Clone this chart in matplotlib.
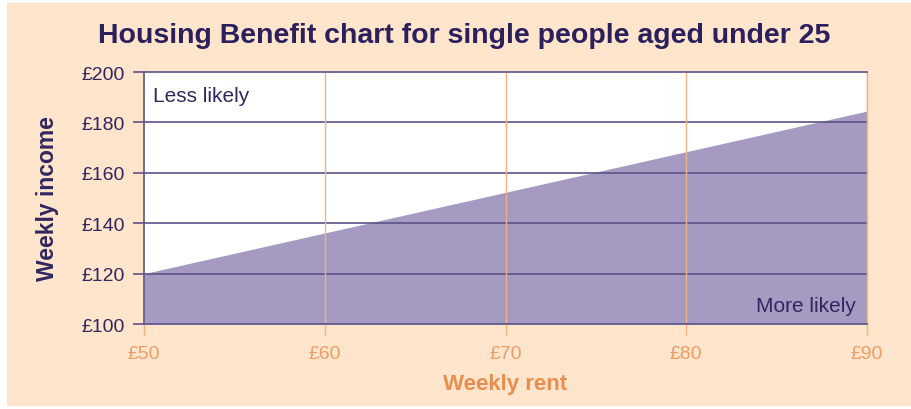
import matplotlib
matplotlib.use("Agg")
import matplotlib.pyplot as plt
from matplotlib.patches import Rectangle

# Data
rent = [50, 90]
income_threshold = [120, 184.5]
x_ticks = [50, 60, 70, 80, 90]
x_tick_labels = ["£50", "£60", "£70", "£80", "£90"]
y_ticks = [100, 120, 140, 160, 180, 200]
y_tick_labels = ["£100", "£120", "£140", "£160", "£180", "£200"]

PEACH = "#FEE5CC"
FILL = "#A59BC2"
DARK = "#31275F"
HLINE = "#5E5289"
ORANGE = "#E98E4E"
ORANGE_LIGHT = "#EE9D66"
VLINE = "#F4B07F"

plt.rcParams["font.family"] = ["Liberation Sans", "DejaVu Sans"]

fig = plt.figure(figsize=(9.11, 4.10), dpi=100)
fig.patch.set_facecolor("white")
fig.patches.append(Rectangle((7/911, 3/410), 1 - 7/911, 1 - 7/410,
                             transform=fig.transFigure, facecolor=PEACH,
                             edgecolor="none", zorder=-10))

ax = fig.add_axes([144/911, 1 - 325/410, (867 - 144)/911, (325 - 73)/410])
ax.set_facecolor("white")
ax.set_xlim(50, 90)
ax.set_ylim(100, 200)

ax.fill_between(rent, [100, 100], income_threshold, color=FILL, lw=0, zorder=1)

for y in y_ticks[1:-1]:
    ax.axhline(y, color=HLINE, lw=1.2, zorder=2)
for x in x_ticks[1:]:
    ax.axvline(x, color=VLINE, lw=1.0, zorder=2)

for s in ["top", "bottom", "left"]:
    ax.spines[s].set_color(HLINE)
    ax.spines[s].set_linewidth(1.2)
ax.spines["right"].set_color(VLINE)
ax.spines["right"].set_linewidth(1.0)

ax.set_xticks(x_ticks)
ax.set_xticklabels(x_tick_labels)
ax.set_yticks(y_ticks)
ax.set_yticklabels(y_tick_labels)
ax.tick_params(axis="y", length=8, width=1.2, color=HLINE, labelcolor=DARK,
               labelsize=14, pad=6)
ax.tick_params(axis="x", length=8, width=1.0, color=VLINE, labelcolor=ORANGE_LIGHT,
               labelsize=14, pad=7)

ax.set_xlabel("Weekly rent", color=ORANGE, fontsize=16, fontweight="bold", labelpad=8)
ax.set_ylabel("Weekly income", color=DARK, fontsize=16.5, fontweight="bold", labelpad=16)

ax.text(0.012, 0.905, "Less likely", transform=ax.transAxes, color=DARK,
        fontsize=15, ha="left", va="center")
ax.text(0.985, 0.075, "More likely", transform=ax.transAxes, color=DARK,
        fontsize=15, ha="right", va="center")

fig.text(464/911, 1 - 36/410, "Housing Benefit chart for single people aged under 25",
         ha="center", va="center", color="#2B1F5C", fontsize=20.5, fontweight="bold")

fig.savefig("out.png", dpi=100, facecolor=fig.get_facecolor())
